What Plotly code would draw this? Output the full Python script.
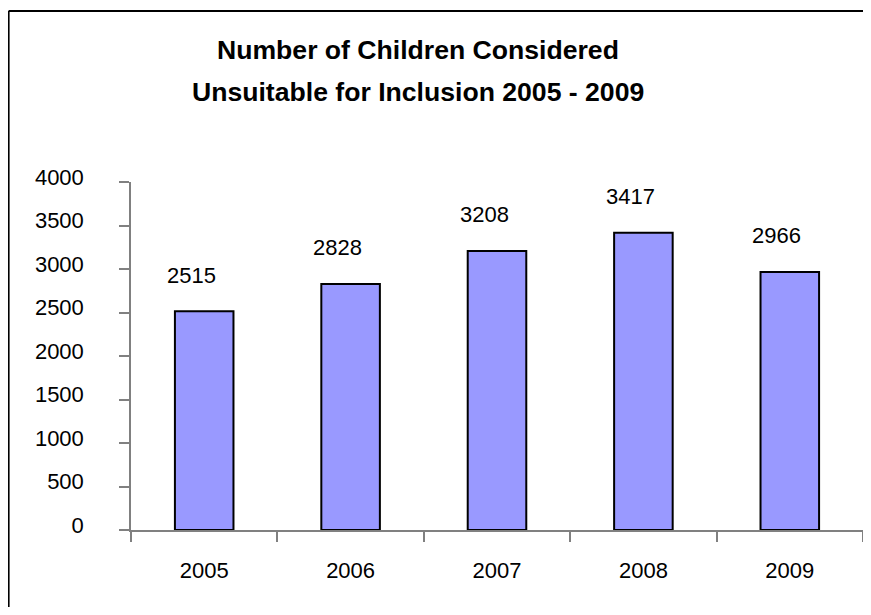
import plotly.graph_objects as go

years = ["2005", "2006", "2007", "2008", "2009"]
counts = [2515, 2828, 3208, 3417, 2966]
y_ticks = [0, 500, 1000, 1500, 2000, 2500, 3000, 3500, 4000]
title_lines = ["Number of Children Considered", "Unsuitable for Inclusion 2005 - 2009"]

FONT = "Liberation Sans, Arial, sans-serif"
OFF = 8  # page body margin
W, H = 871 - 2 * OFF, 615 - 2 * OFF
L, R, T, B = 131 - OFF, 0, 182 - OFF, H - (530 - OFF)
pw, ph = W - L - R, H - T - B

def px_x(px):  # page pixel -> paper
    return (px - OFF - L) / pw

def px_y(py):
    return (H - B - (py - OFF)) / ph

fig = go.Figure()
fig.add_trace(go.Bar(
    x=years, y=counts, width=0.4,
    marker=dict(color="#9999FF", line=dict(color="#000000", width=2)),
    hoverinfo="skip",
))

for i, v in enumerate(counts):
    fig.add_annotation(x=i, y=v, text=str(v), showarrow=False,
                       xanchor="center", yanchor="middle", xshift=-13, yshift=36,
                       font=dict(family=FONT, size=22, color="#000000"))

for i, line in enumerate(title_lines):
    fig.add_annotation(xref="paper", yref="paper", x=px_x(418), y=px_y(50 + i * 42),
                       text="<b>" + line + "</b>", showarrow=False,
                       xanchor="center", yanchor="middle",
                       font=dict(family=FONT, size=26.6, color="#000000"))

# outer frame (left and top edges visible)
fig.add_shape(type="line", xref="paper", yref="paper",
              x0=px_x(8.6), y0=px_y(11), x1=px_x(863), y1=px_y(11),
              line=dict(color="#000000", width=2))
fig.add_shape(type="line", xref="paper", yref="paper",
              x0=px_x(8.6), y0=px_y(11), x1=px_x(8.6), y1=px_y(607),
              line=dict(color="#000000", width=2))

fig.update_layout(
    width=W, height=H,
    margin=dict(l=L, r=R, t=T, b=B, pad=0),
    paper_bgcolor="#FFFFFF", plot_bgcolor="#FFFFFF",
    showlegend=False, bargap=0.6,
    font=dict(family=FONT, size=22, color="#000000"),
)
fig.update_xaxes(
    type="category", range=[-0.5, 4.5], automargin=False,
    showline=True, linecolor="#808080", linewidth=1.5,
    ticks="outside", tickson="boundaries", ticklen=10, tickcolor="#808080", tickwidth=1.5,
    showgrid=False, zeroline=False, ticklabelstandoff=20, tickangle=0,
    tickfont=dict(family=FONT, size=22, color="#000000"),
)
fig.update_yaxes(
    range=[0, 4000], tickvals=y_ticks, ticktext=[str(t) for t in y_ticks],
    automargin=False,
    showline=True, linecolor="#808080", linewidth=1.5,
    ticks="outside", ticklen=10, tickcolor="#808080", tickwidth=1.5,
    showgrid=False, zeroline=False, ticklabelstandoff=31, ticklabelshift=-5,
    tickfont=dict(family=FONT, size=22, color="#000000"),
)

fig.write_html("out.html")
